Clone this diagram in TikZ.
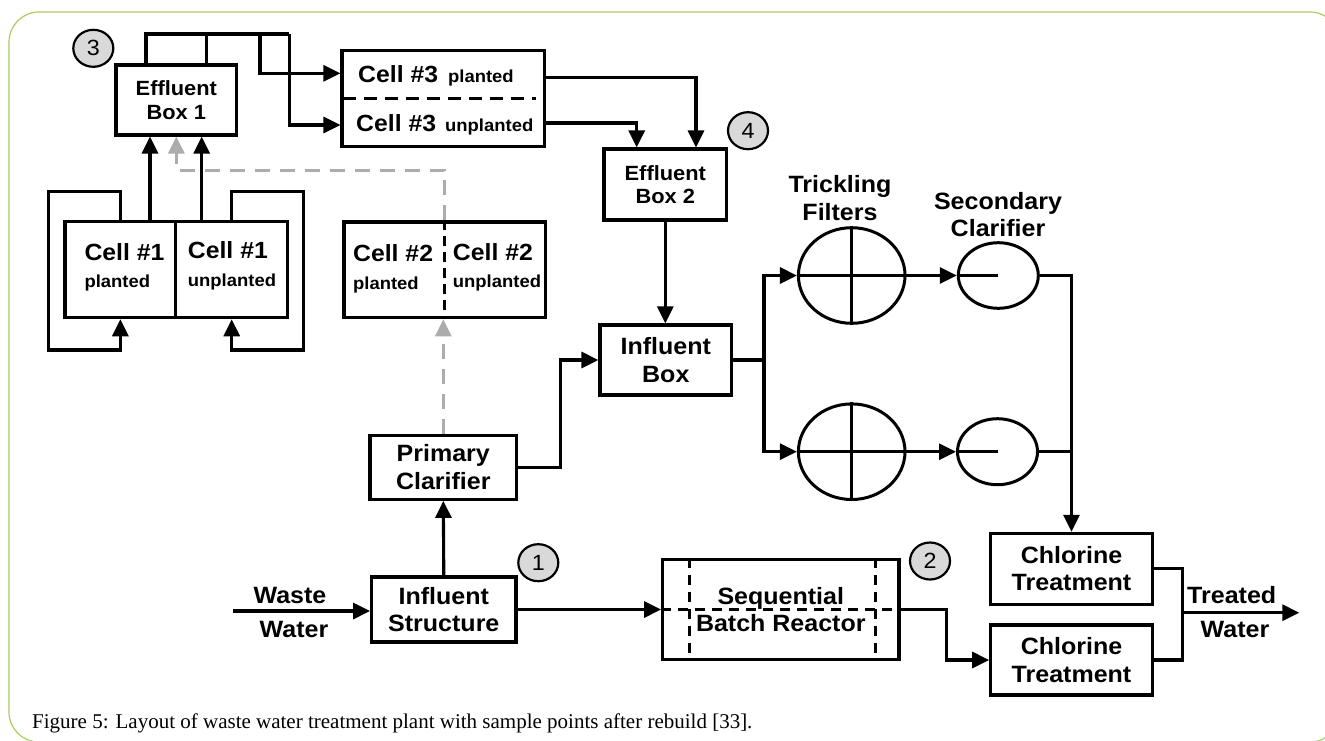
\documentclass[tikz,border=0pt]{standalone}
\usepackage{fontspec}
\setmainfont{Liberation Sans}[FakeStretch=1.06]
\newfontfamily\capfont{Liberation Serif}
\usetikzlibrary{arrows.meta,shapes.geometric,calc}
\definecolor{framegreen}{RGB}{170,204,96}
\definecolor{numgray}{RGB}{217,217,217}
\definecolor{dashgray}{RGB}{172,172,172}
\newcommand\fsBig{\fontsize{23.6}{27.5}\selectfont}
\newcommand\fsMid{\fontsize{20.6}{23.6}\selectfont}
\newcommand\fsCell{\fontsize{23.4}{26}\selectfont}
\newcommand\fsSm{\fontsize{17.4}{19}\selectfont}
\tikzset{
  ln/.style={line width=3.1pt},
  arr/.style={ln,-{Triangle[length=17pt,width=16pt]}},
  garr/.style={line width=3pt, dashgray, dash pattern=on 15pt off 10pt, -{Triangle[length=17pt,width=16pt]}},
  box/.style={draw, line width=3.1pt, rectangle, inner sep=0pt, align=center, font=\bfseries\fsBig},
  smallbox/.style={box, font=\bfseries\fsMid},
  plainbox/.style={draw, line width=3.1pt, rectangle, inner sep=0pt},
  tank/.style={draw, line width=3pt, ellipse, inner sep=0pt},
  numc/.style={draw, line width=2.2pt, ellipse, fill=numgray, minimum width=40pt, minimum height=37pt, inner sep=0pt, font=\fontsize{22}{22}\selectfont},
  lbl/.style={font=\bfseries\fsBig, align=center, inner sep=0pt},
  celltxt/.style={font=\bfseries\fsCell, inner sep=0pt, anchor=base west},
  cellsub/.style={font=\bfseries\fsSm, inner sep=0pt, anchor=base west},
  dashline/.style={line width=3pt, dash pattern=on 13pt off 8pt}
}
\begin{document}
\begin{tikzpicture}[x=1pt,y=-1pt]
\useasboundingbox (0,0) rectangle (1325,740);
\clip (0,0) rectangle (1325,740);
\fill[white] (0,0) rectangle (1325,740);
% frame
\draw[framegreen, line width=1.2pt, rounded corners=30pt] (9,12) rectangle (1340,742);

% ---------- nodes ----------
\node[smallbox, minimum width=120.7pt, minimum height=70pt] (box1) at (176.35,100) {Effluent\\Box 1};
\node[plainbox, minimum width=202.6pt, minimum height=96pt] (cell3) at (443.3,98.7) {};
\node[smallbox, minimum width=122.7pt, minimum height=71pt] (box2) at (665.3,184.5) {Effluent\\Box 2};

\node[plainbox, minimum width=110.7pt, minimum height=96pt] (c1a) at (120.35,269.7) {};
\node[plainbox, minimum width=112pt, minimum height=96pt] (c1b) at (231.7,269.7) {};
\node[plainbox, minimum width=201.7pt, minimum height=95.7pt] (cell2) at (444.85,269.85) {};

\node[box, minimum width=131.7pt, minimum height=70pt] (ib) at (665.8,360) {Influent\\Box};
\node[box, minimum width=146.7pt, minimum height=64.3pt] (pc) at (443.3,467.2) {Primary\\Clarifier};
\node[box, minimum width=144.3pt, minimum height=65pt] (is) at (443.8,609.5) {Influent\\Structure};
\node[box, minimum width=236.3pt, minimum height=100.3pt] (sbr) at (780.8,609.5) {Sequential\\Batch Reactor};
\node[box, minimum width=161.6pt, minimum height=70.7pt] (ch1) at (1071.5,568.7) {Chlorine\\Treatment};
\node[box, minimum width=161.6pt, minimum height=70pt] (ch2) at (1071.5,660) {Chlorine\\Treatment};

\node[tank, minimum width=106.6pt, minimum height=95.6pt] (tf1) at (851.7,275.5) {};
\node[tank, minimum width=106.6pt, minimum height=95.6pt] (tf2) at (851.7,451.7) {};
\node[tank, minimum width=80pt, minimum height=65.6pt] (sc1) at (998.3,275.5) {};
\node[tank, minimum width=80pt, minimum height=66pt] (sc2) at (997.5,451.7) {};

\node[numc] (n3) at (93.3,48.3) {3};
\node[numc] (n4) at (748,130.7) {4};
\node[numc] (n1) at (538.3,562.7) {1};
\node[numc] (n2) at (930,561) {2};

% labels
\node[lbl] (tfl) at (840,198.3) {Trickling\\Filters};
\node[lbl, font=\bfseries\fontsize{23.6}{27.6}\selectfont] (scl) at (998,214.5) {Secondary\\Clarifier};
\node[lbl] (wst) at (290,595) {Waste};
\node[lbl] (wtr) at (294,629.3) {Water};
\node[lbl] (trt) at (1231.7,595) {Treated};
\node[lbl] (twt) at (1235,629) {Water};

% cell texts
\node[celltxt] (c3t) at (358,82) {Cell \#3\hspace{10pt}{\fsSm planted}};
\node[celltxt] (c3u) at (356,131) {Cell \#3\hspace{9pt}{\fsSm unplanted}};
\node[celltxt] (c1at) at (84.3,260.7) {Cell \#1};
\node[cellsub] (c1as) at (84.3,287.7) {planted};
\node[celltxt] (c1bt) at (187.7,258.3) {Cell \#1};
\node[cellsub] (c1bs) at (187.7,286) {unplanted};
\node[celltxt] (c2at) at (352.9,261.7) {Cell \#2};
\node[cellsub] (c2as) at (352.9,289) {planted};
\node[celltxt] (c2bt) at (452.7,260) {Cell \#2};
\node[cellsub] (c2bs) at (452.7,287) {unplanted};

\node[anchor=base west, inner sep=0pt, font=\capfont\fontsize{21}{21}\selectfont] (cap) at (32,728) {Figure 5: Layout of waste water treatment plant with sample points after rebuild [33].};

% ---------- inner details ----------
\draw[dashline] ([xshift=3pt]cell3.west) -- ([xshift=-10pt]cell3.east);
\draw[line width=3pt, dash pattern=on 10pt off 6pt] (cell2.north) -- (cell2.south);
\draw[line width=2.8pt, dash pattern=on 10pt off 7pt] ([xshift=28pt]sbr.north west) -- ([xshift=28pt]sbr.south west);
\draw[line width=2.8pt, dash pattern=on 10pt off 7pt] ([xshift=-25pt]sbr.north east) -- ([xshift=-25pt]sbr.south east);
\draw[line width=2.8pt, dash pattern=on 10pt off 7pt] (sbr.west) -- (sbr.east);
\foreach \t in {tf1,tf2}{
  \draw[line width=2.6pt] (\t.north) -- (\t.south);
  \draw[line width=2.6pt] (\t.west) -- (\t.east);
}
\draw[line width=2.6pt] (sc1.west) -- (sc1.center);
\draw[line width=2.6pt] (sc2.west) -- (sc2.center);

% ---------- connectors ----------
\coordinate (busA) at (146,34);
\coordinate (busB) at (260,34);
\coordinate (busC) at (289.3,34);
\draw[ln] ([xshift=-30.35pt]box1.north) -- (busA) -- (busC);
\draw[ln] ([xshift=30.35pt]box1.north) -- ([xshift=30.35pt]box1.north |- busA);
\draw[arr] (busB) |- ([yshift=25.4pt]cell3.west);
\draw[arr] (busC) |- ([yshift=-26.3pt]cell3.west);

\draw[arr] ([yshift=21.4pt]cell3.east) -| ([xshift=30.7pt]box2.north);
\draw[arr] ([yshift=-24.3pt]cell3.east) -| ([xshift=-28.6pt]box2.north);

\draw[arr] ([xshift=29.65pt]c1a.north) -- ([xshift=29.65pt]c1a.north |- box1.south);
\draw[arr] ([xshift=-30pt]c1b.north) -- ([xshift=-30pt]c1b.north |- box1.south);

\coordinate (lpA) at (48.3,350);
\coordinate (lpB) at (303.3,350);
\draw[arr] (c1a.north) -- ++(0,-28.4) -| (lpA) -| (c1a.south);
\draw[arr] (c1b.north) -- ++(0,-28.4) -| (lpB) -| (c1b.south);

% gray sample line
\draw[garr] (pc.north) -- (pc.north |- cell2.south);
\draw[garr] (cell2.north) -- ++(0,-50.3) -| (box1.south);

\draw[arr] (box2.south) -- (box2.south |- ib.north);

\coordinate (ww) at (233.3,611);
\draw[arr] (ww) -- (ww -| is.west);
\draw[arr] (is.north) -- (pc.south);
\draw[arr] (is.east) -- (sbr.west);
\draw[arr] (pc.east) -- ++(42.6,0) |- (ib.west);

\coordinate (br) at (764,360);
\draw[ln] (ib.east) -- (br);
\draw[arr] (br) |- (tf1.west);
\draw[arr] (br) |- (tf2.west);
\draw[arr] (tf1.east) -- (sc1.west);
\draw[arr] (tf2.east) -- (sc2.west);
\draw[arr] (sc1.east) -| (ch1.north);
\draw[ln] (sc2.east) -- (sc2.east -| ch1.north);

\draw[arr] (sbr.east) -- ++(46,0) |- (ch2.west);

\coordinate (tw) at (1182.7,612.7);
\coordinate (twend) at (1299.3,612.7);
\draw[ln] (ch1.east) -| (tw);
\draw[ln] (ch2.east) -| (tw);
\draw[arr] (tw) -- (twend);
\end{tikzpicture}
\end{document}
